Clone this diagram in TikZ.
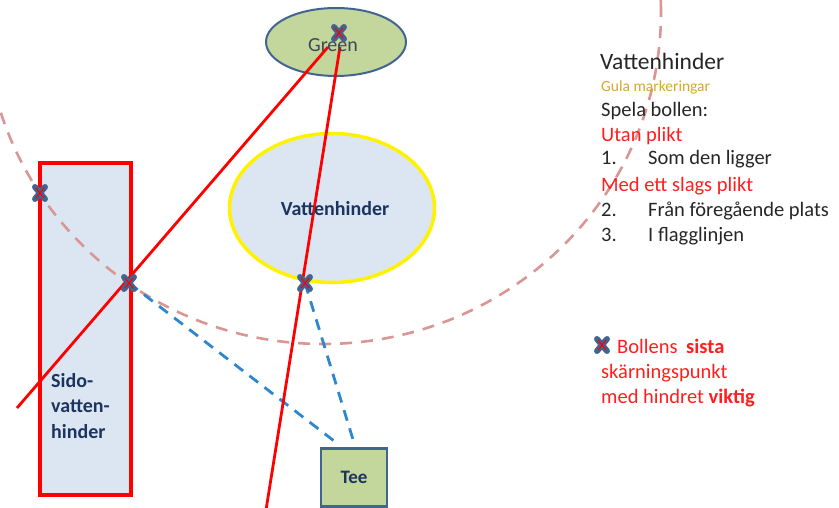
\documentclass[tikz,border=0pt]{standalone}
\usepackage{fontspec}
\setmainfont{Carlito}
\usetikzlibrary{shapes.geometric,calc}
\definecolor{lblue}{RGB}{220,230,242}
\definecolor{lgreen}{RGB}{195,214,155}
\definecolor{bord}{RGB}{66,100,145}
\definecolor{navy}{RGB}{28,52,96}
\definecolor{pinkd}{RGB}{217,150,148}
\definecolor{bdash}{RGB}{46,134,206}
\definecolor{gold}{RGB}{212,168,42}
\definecolor{txt}{RGB}{38,38,38}
\definecolor{redt}{RGB}{255,30,30}
\definecolor{greentxt}{RGB}{60,72,88}
\tikzset{
  fs/.style={font=\fontsize{#1}{#1}\selectfont},
  btxt/.style={anchor=base west, inner sep=0pt, fs=20.5},
  redline/.style={draw=red, line width=2.8pt},
  bluedash/.style={draw=bdash, line width=2.8pt, dash pattern=on 11pt off 8pt},
  pinkdash/.style={draw=pinkd, line width=2.6pt, dash pattern=on 12pt off 9pt},
  oval/.style={ellipse, inner sep=0pt},
}
\begin{document}
\begin{tikzpicture}[x=1pt,y=-1pt]
\useasboundingbox (0,0) rectangle (839,508);

% shapes
\node[oval, draw=bord, fill=lgreen, line width=2pt, minimum width=140pt, minimum height=68pt] (green) at (336,42) {};
\node[oval, draw=yellow, fill=lblue, line width=3.5pt, minimum width=205pt, minimum height=149pt] (vh) at (332,208) {};
\node[draw=red, fill=lblue, line width=4pt, minimum width=91pt, minimum height=332pt, inner sep=0pt] (sido) at (85.5,329) {};
\node[draw=bord, fill=lgreen, line width=2.5pt, minimum width=66pt, minimum height=58pt, inner sep=0pt,
      font=\bfseries\fontsize{19}{19}\selectfont, text=navy] (tee) at (354,477.5) {Tee};

% dashed circle
\begin{scope}
\clip (0,0) rectangle (839,508);
\draw[pinkdash] (323,12) ellipse [x radius=338pt, y radius=332pt];
\end{scope}

% key points
\coordinate (xg) at (339,33);
\coordinate (x1) at (40,193);
\coordinate (x2) at (129,283);
\coordinate (x3) at (305,283);
\coordinate (xl) at (602,345);
\coordinate (r1a) at (17,408);
\coordinate (r1b) at (328,47);
\coordinate (r2a) at (266,510);
\coordinate (r2b) at (340,47);
\coordinate (t1) at (338,444);
\coordinate (t2) at (355,446);

% connectors
\draw[bluedash] (x2) -- (t1);
\draw[bluedash] (x3) -- (t2);
\draw[redline] (r1a) -- (r1b);
\draw[redline] (r2a) -- (r2b);

% texts in shapes
\node[anchor=base, inner sep=0pt, fs=20, text=greentxt] (greent) at (333,52) {Green};
\node[anchor=base, inner sep=0pt, font=\bfseries\fontsize{20}{20}\selectfont, text=navy] (vht) at (335,215) {Vattenhinder};
\node[anchor=base west, inner sep=0pt, font=\bfseries\fontsize{20}{25.5}\selectfont, text=navy, align=left] (sidot) at (51,438) {Sido-\\vatten-\\hinder};

% markers
\foreach \p in {xg,x1,x2,x3,xl}{
  \draw[bord, line width=6pt, line cap=round] ($(\p)+(-5,-6)$) -- ($(\p)+(5,6)$);
  \draw[bord, line width=6pt, line cap=round] ($(\p)+(-5,6)$) -- ($(\p)+(5,-6)$);
  \draw[red, line width=1.1pt] ($(\p)+(-4,-5)$) -- ($(\p)+(4,5)$);
  \draw[red, line width=1.1pt] ($(\p)+(-4,5)$) -- ($(\p)+(4,-5)$);
}

% right text block
\node[anchor=base west, inner sep=0pt, fs=23.5, text=txt] (h1) at (600,70) {Vattenhinder};
\node[anchor=base west, inner sep=0pt, fs=15.5, text=gold] (h2) at (601,92) {Gula markeringar};
\node[btxt, text=txt] (h3) at (601,117) {Spela bollen:};
\node[btxt, text=redt] (h4) at (601,142) {Utan plikt};
\node[btxt, text=txt] (n1) at (601,165) {1.};
\node[btxt, text=txt] (t1x) at (648,165) {Som den ligger};
\node[btxt, text=redt] (h5) at (601,192) {Med ett slags plikt};
\node[btxt, text=txt] (n2) at (601,217) {2.};
\node[btxt, text=txt] (t2x) at (648,217) {Från föregående plats};
\node[btxt, text=txt] (n3) at (601,242) {3.};
\node[btxt, text=txt] (t3x) at (648,242) {I flagglinjen};

% legend
\node[btxt, text=redt] (l1) at (617,353) {Bollens\hspace{4pt} \textbf{sista}};
\node[btxt, text=redt] (l2) at (601,378) {skärningspunkt};
\node[btxt, text=redt] (l3) at (601,403) {med hindret \textbf{viktig}};
\end{tikzpicture}
\end{document}
